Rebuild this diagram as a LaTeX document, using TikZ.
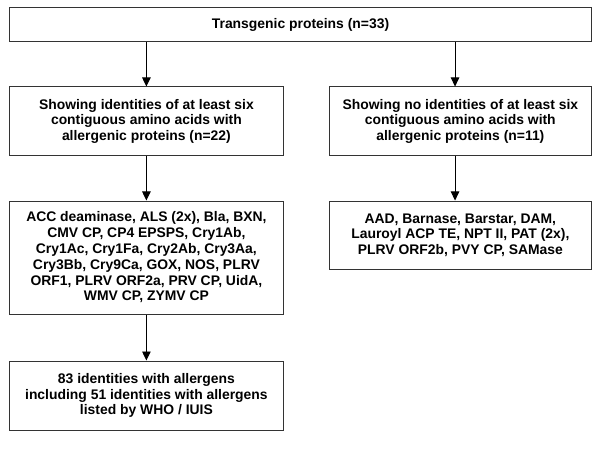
\documentclass[tikz,border=0pt]{standalone}
\usepackage{fontspec}
\setmainfont{Liberation Sans}
\usetikzlibrary{arrows.meta}
\begin{document}
\begin{tikzpicture}[x=1pt,y=1pt,
  box/.style={draw=black!80, line width=1pt, align=center,
    font=\bfseries\fontsize{13.9}{15.8}\selectfont, inner sep=0pt, anchor=center},
  wbox/.style={box, minimum width=274.2pt},
  rbox/.style={box, minimum width=262.7pt},
  arr/.style={draw=black, line width=0.9pt, -{Triangle[length=9pt,width=8.5pt]}}]
\useasboundingbox (0,0) rectangle (600,448);
\fill[white] (0,0) rectangle (600,448);
\node[box, minimum width=582.4pt, minimum height=34.7pt] (top) at (300.5,423.35) {Transgenic proteins (n=33)};
\node[wbox, minimum height=68.5pt] (L2) at (146.4,326.75) {Showing identities of at least six\\contiguous amino acids with\\allergenic proteins (n=22)};
\node[rbox, minimum height=68.5pt] (R2) at (460.35,326.75) {Showing no identities of at least six\\contiguous amino acids with\\allergenic proteins (n=11)};
\node[wbox, minimum height=113pt] (L3) at (146.4,190.5) {ACC deaminase, ALS (2x), Bla, BXN,\\CMV CP, CP4 EPSPS, Cry1Ab,\\Cry1Ac, Cry1Fa, Cry2Ab, Cry3Aa,\\Cry3Bb, Cry9Ca, GOX, NOS, PLRV\\ORF1, PLRV ORF2a, PRV CP, UidA,\\WMV CP, ZYMV CP};
\node[rbox, minimum height=68.5pt] (R3) at (460.35,212.75) {AAD, Barnase, Barstar, DAM,\\Lauroyl ACP TE, NPT II, PAT (2x),\\PLRV ORF2b, PVY CP, SAMase};
\node[wbox, minimum height=69pt] (L4) at (146.4,52.5) {83 identities with allergens\\including 51 identities with allergens\\listed by WHO / IUIS};
\draw[arr] (top.south -| L2.north) -- (L2.north);
\draw[arr] ([xshift=-5.3pt]R2.north |- top.south) -- ([xshift=-5.3pt]R2.north);
\draw[arr] (L2.south) -- (L3.north);
\draw[arr] ([xshift=-5.3pt]R2.south) -- ([xshift=-5.3pt]R3.north);
\draw[arr] (L3.south) -- (L4.north);
\end{tikzpicture}
\end{document}
